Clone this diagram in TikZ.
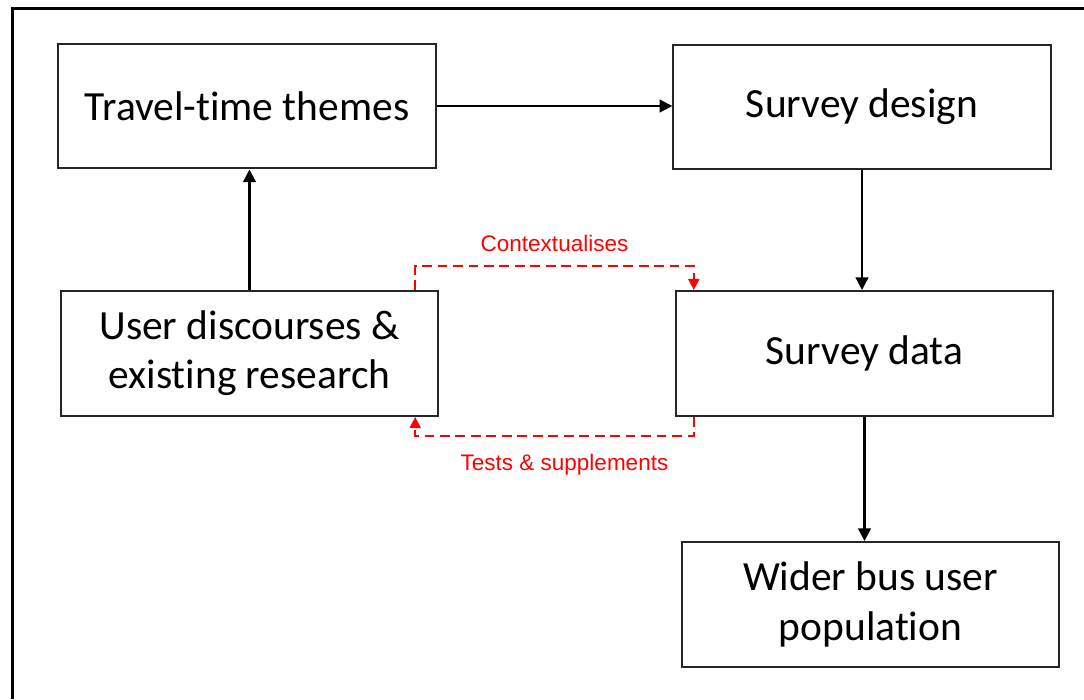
\documentclass[tikz,border=0pt]{standalone}
\usepackage{fontspec}
\setmainfont{Carlito}[Ligatures=NoCommon]
\newfontfamily\labelfont{Liberation Sans}
\usetikzlibrary{arrows.meta}

\begin{document}
\begin{tikzpicture}[x=0.025cm, y=-0.025cm, box style/.style={draw=black!85, line width=1.5pt, minimum width=9.43cm, minimum height=3.12cm, align=center, inner sep=0pt, font=\fontsize{29.5}{35}\selectfont}, flow edge/.style={-{Triangle[length=9pt, width=9pt]}, line width=1.5pt}, link edge/.style={red, line width=1.4pt, dash pattern=on 7pt off 4pt, -{Triangle[length=8pt, width=8pt]}}, link label/.style={red, font=\labelfont\fontsize{16}{18}\selectfont}]

    \useasboundingbox (0,0) rectangle (1084,699);

    % =========================================================================
    % Marco exterior (solo izquierda y arriba)
    % =========================================================================
    \draw[line width=2.5pt] (12.5,699) -- (12.5,8.5) -- (1084,8.5);

    % Cajas
    \node[box style] (themes) at (247,106) {Travel-time themes};
    \node[box style] (design) at (862,107) {Survey design};
    \node[box style] (discourses) at (249.5,353.5) {User discourses \&\\existing research};
    \node[box style] (data) at (864.5,353.5) {Survey data};
    \node[box style] (population) at (870.5,604.5) {Wider bus user\\population};

    % Flujo principal
    \draw[flow edge] (themes.east) -- (themes.east -| design.west);
    \draw[flow edge] (discourses.north) -- (discourses.north |- themes.south);
    \draw[flow edge] (design.south) -- (design.south |- data.north);
    \draw[flow edge] (data.south) -- (data.south |- population.north);

    % Enlaces en rojo
    \draw[link edge] ([xshift=-0.6cm]discourses.north east) -- ++(0,-24) -| ([xshift=0.475cm]data.north west)
        node[pos=0.25, above=6pt, link label] {Contextualises};
    \draw[link edge] ([xshift=0.475cm]data.south west) -- ++(0,19) -| ([xshift=-0.6cm]discourses.south east)
        node[pos=0.25, below=9pt, xshift=0.25cm, link label] {Tests \& supplements};

\end{tikzpicture}
\end{document}
